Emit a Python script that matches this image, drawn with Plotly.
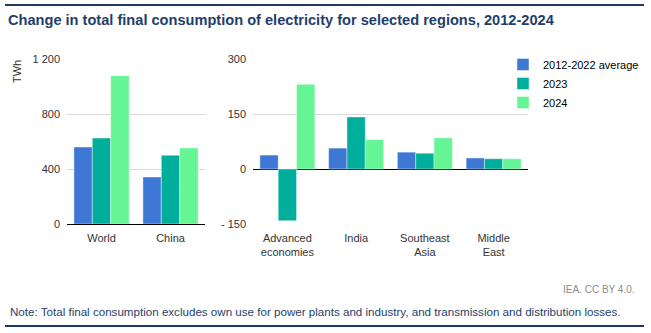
import plotly.graph_objects as go

series = ["2012-2022 average", "2023", "2024"]
colors = ["#3F78D4", "#00AE9C", "#66F595"]

left_cats = ["World", "China"]
left_vals = {
    "2012-2022 average": [560, 342],
    "2023": [625, 500],
    "2024": [1078, 553],
}

right_cats = ["Advanced<br>economies", "India", "Southeast<br>Asia", "Middle<br>East"]
right_vals = {
    "2012-2022 average": [38, 57, 46, 30],
    "2023": [-141, 142, 43, 28],
    "2024": [231, 80, 85, 28],
}

left_ticks = [0, 400, 800, 1200]
left_ticktext = ["0", "400", "800", "1 200"]
right_ticks = [-150, 0, 150, 300]
right_ticktext = ["- 150", "0", "150", "300"]

W, H = 651, 333
FONT = "Liberation Sans, Arial, sans-serif"
TXT = "#333333"

fig = go.Figure()
for s, c in zip(series, colors):
    fig.add_trace(go.Bar(x=left_cats, y=left_vals[s], name=s, marker_color=c,
                         marker_line=dict(color="rgba(255,255,255,0.6)", width=0.7),
                         xaxis="x", yaxis="y", showlegend=True))
for s, c in zip(series, colors):
    fig.add_trace(go.Bar(x=right_cats, y=right_vals[s], name=s, marker_color=c,
                         marker_line=dict(color="rgba(255,255,255,0.6)", width=0.7),
                         xaxis="x2", yaxis="y2", showlegend=False))

ydom = [(H - 224) / H, (H - 59) / H]

fig.update_layout(
    width=W, height=H,
    margin=dict(l=0, r=0, t=0, b=0, autoexpand=False),
    paper_bgcolor="white", plot_bgcolor="white",
    font=dict(family=FONT, size=11, color=TXT),
    barmode="group", bargap=0.2, bargroupgap=0,
    xaxis=dict(domain=[67 / W, 205 / W], anchor="y", showline=False, automargin=False,
               ticks="", ticklabelstandoff=6, tickfont=dict(size=11, color=TXT)),
    yaxis=dict(domain=ydom, anchor="x", range=[0, 1200], tickvals=left_ticks,
               ticktext=left_ticktext, showgrid=True, gridcolor="#D9D9D9", gridwidth=1,
               zeroline=True, zerolinecolor="#000000", zerolinewidth=1.3, automargin=False,
               ticks="", ticklabelstandoff=6, tickfont=dict(size=11, color=TXT)),
    xaxis2=dict(domain=[253 / W, 528 / W], anchor="y2", showline=False, automargin=False,
                ticks="", ticklabelstandoff=6, tickfont=dict(size=11, color=TXT)),
    yaxis2=dict(domain=ydom, anchor="x2", range=[-150, 300], tickvals=right_ticks,
                ticktext=right_ticktext, showgrid=True, gridcolor="#D9D9D9", gridwidth=1,
                zeroline=True, zerolinecolor="#000000", zerolinewidth=1.3, automargin=False,
                ticks="", ticklabelstandoff=6, tickfont=dict(size=11, color=TXT)),
    legend=dict(x=503 / W, y=(H - 50) / H, xanchor="left", yanchor="top",
                font=dict(size=11, color="#000000"), itemwidth=30,
                tracegroupgap=6, bgcolor="rgba(0,0,0,0)"),
    title=dict(text="<b>Change in total final consumption of electricity for selected regions, 2012-2024</b>",
               x=8 / W, xanchor="left", y=(H - 20) / H, yanchor="middle",
               font=dict(family=FONT, size=14.6, color="#1F3E6B")),
    shapes=[
        dict(type="line", xref="paper", yref="paper", x0=5 / W, x1=644 / W,
             y0=(H - 5) / H, y1=(H - 5) / H, line=dict(color="#1F3864", width=2)),
        dict(type="line", xref="paper", yref="paper", x0=5 / W, x1=644 / W,
             y0=(H - 326) / H, y1=(H - 326) / H, line=dict(color="#1F3864", width=2)),
    ],
    annotations=[
        dict(text="TWh", xref="paper", yref="paper", x=17 / W, y=(H - 72) / H,
             xanchor="center", yanchor="middle", textangle=-90, showarrow=False,
             font=dict(size=11, color=TXT)),
        dict(text="IEA. CC BY 4.0.", xref="paper", yref="paper", x=637 / W, y=(H - 289) / H,
             xanchor="right", yanchor="middle", showarrow=False,
             font=dict(size=10, color="#8C8C8C")),
        dict(text="Note: Total final consumption excludes own use for power plants and industry, and transmission and distribution losses.",
             xref="paper", yref="paper", x=8 / W, y=(H - 311) / H,
             xanchor="left", yanchor="middle", showarrow=False,
             font=dict(family=FONT, size=11.6, color="#1F3E6B")),
    ],
)

fig.write_html("out.html")
